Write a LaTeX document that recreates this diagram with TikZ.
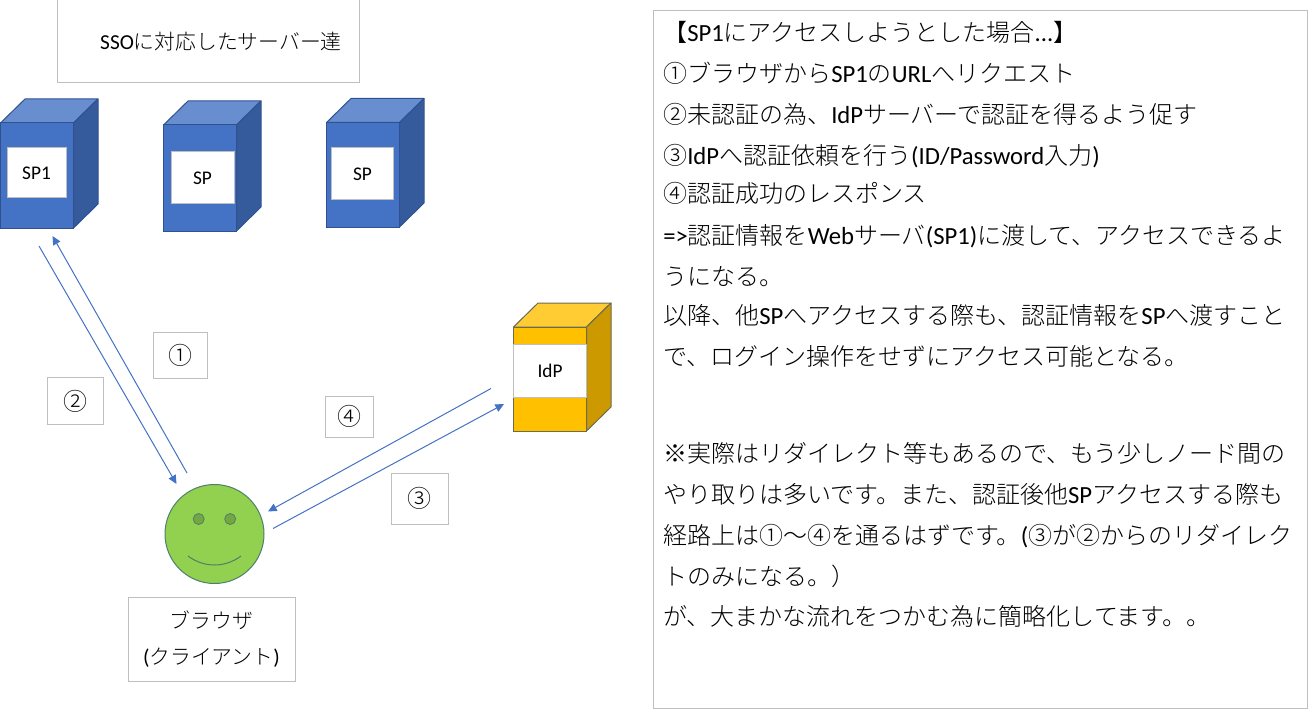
\documentclass[tikz,border=0pt]{standalone}
\usepackage{fontspec}
\setmainfont{Noto Sans CJK JP Light}
\newfontfamily\lat{Carlito}
\definecolor{bfront}{HTML}{4472C4}
\definecolor{btop}{HTML}{698ED0}
\definecolor{bside}{HTML}{365B9D}
\definecolor{bedge}{HTML}{2F528F}
\definecolor{yfront}{HTML}{FFC000}
\definecolor{ytop}{HTML}{FFCD33}
\definecolor{yside}{HTML}{CC9A00}
\definecolor{yedge}{HTML}{6B6B50}
\definecolor{gbox}{HTML}{BFBFBF}
\definecolor{gface}{HTML}{92D050}
\definecolor{geye}{HTML}{75A640}
\definecolor{gedge}{HTML}{4F7F6A}
\definecolor{arrowc}{HTML}{4472C4}
\usetikzlibrary{arrows.meta}
\newcommand{\latl}[1]{{\fontsize{16pt}{27.5pt}\lat #1}}
\newcommand{\latp}[1]{{\fontsize{18.5pt}{20pt}\lat #1}}
\tikzset{
  greybox/.style={draw=gbox,line width=0.75pt,fill=white,inner sep=0pt,align=center,font=\fontsize{15.6pt}{27.5pt}\selectfont},
  numbox/.style={greybox,font=\fontsize{18pt}{20pt}\selectfont},
  cubelabel/.style={draw=gbox,line width=0.75pt,fill=white,inner sep=0pt,font=\fontsize{14.5pt}{16pt}\selectfont\lat},
  flow/.style={draw=arrowc,line width=0.75pt,-{Triangle[length=6.5pt,width=6pt]}},
  panelline/.style={anchor=base west,inner sep=0pt,font=\fontsize{18pt}{20pt}\selectfont},
}
% #1 left, #2 front top, #3 front bottom, #4 fill front, #5 top, #6 side, #7 edge
\newcommand{\servercube}[7]{%
  \draw[draw=#7,line width=0.75pt,fill=#5,line join=round] (#1,#2) -- (#1+24.5,#2-24) -- (#1+97.5,#2-24) -- (#1+73,#2) -- cycle;
  \draw[draw=#7,line width=0.75pt,fill=#6,line join=round] (#1+73,#2) -- (#1+97.5,#2-24) -- (#1+97.5,#3-24) -- (#1+73,#3) -- cycle;
  \draw[draw=#7,line width=0.75pt,fill=#4] (#1,#2) rectangle (#1+73,#3);
}
\newcommand{\pl}[3]{\node[panelline] (#1) at (663,#2) {#3};}
\begin{document}
\begin{tikzpicture}[x=0.75pt,y=-0.75pt]
\useasboundingbox (0,0) rectangle (1308,709);
% title box
\node[greybox,minimum width=302*0.75pt,minimum height=83*0.75pt] (ssobox) at (208,41.5) {\hspace*{19.5pt}\latl{SSO}に対応したサーバー達};
% cubes
\servercube{0.5}{123}{228}{bfront}{btop}{bside}{bedge}
\servercube{163.5}{125}{231}{bfront}{btop}{bside}{bedge}
\servercube{326.5}{122.5}{227}{bfront}{btop}{bside}{bedge}
\servercube{513.5}{327}{431}{yfront}{ytop}{yside}{yedge}
\node[cubelabel,minimum width=59*0.75pt,minimum height=50*0.75pt] (sp1) at (36.5,173) {SP1};
\node[cubelabel,minimum width=63*0.75pt,minimum height=52*0.75pt] (sp2) at (202.5,178) {SP};
\node[cubelabel,minimum width=62*0.75pt,minimum height=52*0.75pt] (sp3) at (362.5,174) {SP};
\node[cubelabel,minimum width=73*0.75pt,minimum height=53*0.75pt] (idp) at (550,370.5) {IdP};
% face
\node[circle,draw=gedge,fill=gface,line width=0.75pt,minimum size=99*0.75pt,inner sep=0pt] (face) at (214.5,534) {};
\node[circle,draw=gedge,fill=geye,line width=0.6pt,minimum size=11*0.75pt,inner sep=0pt] (eyeL) at (198.7,519) {};
\node[circle,draw=gedge,fill=geye,line width=0.6pt,minimum size=11*0.75pt,inner sep=0pt] (eyeR) at (230.2,519) {};
\coordinate (smileL) at (188,556);
\coordinate (smileR) at (241,556);
\draw[draw=gedge,line width=0.75pt] (smileL) .. controls (204,568) and (225,568) .. (smileR);
% browser box
\node[greybox,minimum width=167*0.75pt,minimum height=84*0.75pt] (browser) at (211.5,639) {ブラウザ\\\latl{(}クライアント\latl{)}};
% number boxes
\node[numbox,minimum width=54*0.75pt,minimum height=46*0.75pt] (n1) at (180,355) {①};
\node[numbox,minimum width=56*0.75pt,minimum height=47*0.75pt] (n2) at (75,401) {②};
\node[numbox,minimum width=48*0.75pt,minimum height=41*0.75pt] (n4) at (349,416.5) {④};
\node[numbox,minimum width=57*0.75pt,minimum height=51*0.75pt] (n3) at (419.5,498.5) {③};
% arrows
\coordinate (a1s) at (187,473);
\coordinate (a1e) at (52.5,236);
\coordinate (a2s) at (39,246);
\coordinate (a2e) at (176.5,484);
\coordinate (a4s) at (491,388.5);
\coordinate (a4e) at (268,511.5);
\coordinate (a3s) at (273,528.5);
\coordinate (a3e) at (504,404);
\draw[flow] (a1s) -- (a1e);
\draw[flow] (a2s) -- (a2e);
\draw[flow] (a4s) -- (a4e);
\draw[flow] (a3s) -- (a3e);
% panel
\node[draw=gbox,line width=0.75pt,inner sep=0pt,minimum width=653.5*0.75pt,minimum height=697.5*0.75pt,anchor=north west] (panel) at (653,10.5) {};
\pl{l1}{42}{【\latp{SP1}にアクセスしようとした場合\latp{...}】}
\pl{l2}{83}{①ブラウザから\latp{SP1}の\latp{URL}へリクエスト}
\pl{l3}{124}{②未認証の為、\latp{IdP}サーバーで認証を得るよう促す}
\pl{l4}{165}{③\latp{IdP}へ認証依頼を行う\latp{(ID/Password}入力\latp{)}}
\pl{l5}{203}{④認証成功のレスポンス}
\pl{l6}{244}{\latp{=>}認証情報を\latp{Web}サーバ\latp{(SP1)}に渡して、アクセスできるよ}
\pl{l7}{285}{うになる。}
\pl{l8}{324}{以降、他\latp{SP}へアクセスする際も、認証情報を\latp{SP}へ渡すこと}
\pl{l9}{365}{で、ログイン操作をせずにアクセス可能となる。}
\pl{l10}{462}{※実際はリダイレクト等もあるので、もう少しノード間の}
\pl{l11}{503}{やり取りは多いです。また、認証後他\latp{SP}アクセスする際も}
\pl{l12}{544}{経路上は①～④を通るはずです。\latp{(}③が②からのリダイレク}
\pl{l13}{585}{トのみになる。）}
\pl{l14}{625}{が、大まかな流れをつかむ為に簡略化してます。。}
\end{tikzpicture}
\end{document}
